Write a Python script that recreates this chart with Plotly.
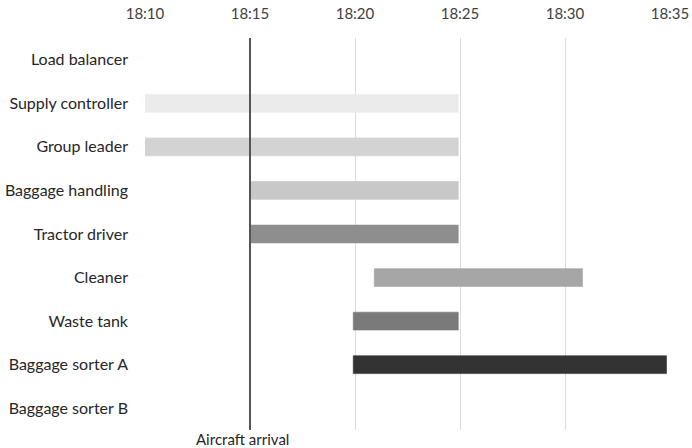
import plotly.graph_objects as go
from datetime import datetime

DAY = "2024-01-01"

# Ground-handling roles, top to bottom
roles = [
    "Load balancer",
    "Supply controller",
    "Group leader",
    "Baggage handling",
    "Tractor driver",
    "Cleaner",
    "Waste tank",
    "Baggage sorter A",
    "Baggage sorter B",
]

# Task windows (only roles with an activity)
task_roles = [
    "Supply controller",
    "Group leader",
    "Baggage handling",
    "Tractor driver",
    "Cleaner",
    "Waste tank",
    "Baggage sorter A",
]
task_start = ["18:10:00", "18:10:00", "18:15:00", "18:15:00", "18:20:55", "18:19:55", "18:19:55"]
task_end = ["18:24:55", "18:24:55", "18:24:55", "18:24:55", "18:30:50", "18:24:55", "18:34:50"]
task_colors = ["#ebebeb", "#d3d3d3", "#c8c8c8", "#8e8e8e", "#a6a6a6", "#7a7a7a", "#333333"]

arrival_time = "18:15:00"
arrival_label = "Aircraft arrival"

axis_start = "18:10:00"
axis_end = "18:35:00"


def ts(t):
    return datetime.fromisoformat(f"{DAY} {t}")


fig = go.Figure()

for role, s, e, c in zip(task_roles, task_start, task_end, task_colors):
    dur_ms = (ts(e) - ts(s)).total_seconds() * 1000
    fig.add_trace(go.Bar(
        y=[role],
        x=[dur_ms],
        base=[ts(s).isoformat()],
        orientation="h",
        width=0.41,
        marker=dict(color=c, line=dict(color=c, width=0.6)),
        showlegend=False,
        hoverinfo="skip",
    ))

# Arrival marker
fig.add_shape(
    type="line",
    xref="x", yref="paper",
    x0=ts(arrival_time).isoformat(), x1=ts(arrival_time).isoformat(),
    y0=0, y1=1,
    line=dict(color="#555555", width=2),
)
fig.add_annotation(
    x=ts(arrival_time).isoformat(), xref="x",
    y=0, yref="paper",
    yanchor="top", xanchor="center",
    yshift=1, xshift=-8,
    borderpad=0,
    text=arrival_label,
    showarrow=False,
    font=dict(family="Lato", size=15, color="#262626"),
)

fig.update_layout(
    width=692, height=448,
    margin=dict(l=145, r=22, t=38, b=18),
    paper_bgcolor="white",
    plot_bgcolor="white",
    barmode="overlay",
    xaxis=dict(
        type="date",
        side="top",
        automargin=False,
        range=[ts(axis_start).isoformat(), ts(axis_end).isoformat()],
        tick0=ts(axis_start).isoformat(),
        dtick=300000,
        tickformat="%H:%M",
        showgrid=True,
        gridcolor="#dcdcdc",
        gridwidth=1,
        zeroline=False,
        showline=False,
        ticks="",
        ticklabelstandoff=15,
        tickfont=dict(family="Lato", size=15, color="#404040"),
    ),
    yaxis=dict(
        type="category",
        automargin=False,
        categoryorder="array",
        categoryarray=roles,
        range=[len(roles) - 0.5, -0.5],
        showgrid=False,
        zeroline=False,
        showline=False,
        ticks="",
        ticklabelstandoff=16,
        tickfont=dict(family="Lato", size=16, color="#262626"),
    ),
)

fig.write_html("out.html")
